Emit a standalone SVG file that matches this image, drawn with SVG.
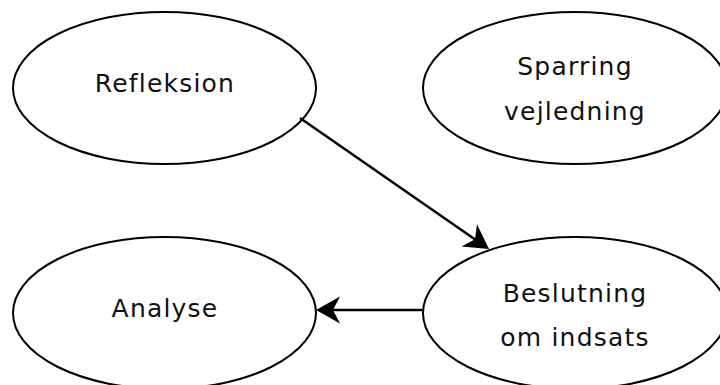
<svg xmlns="http://www.w3.org/2000/svg" width="720" height="385" viewBox="0 0 720 385">
  <defs>
    <style>
      .node ellipse { fill: #ffffff; stroke: #000000; stroke-width: 2; }
      .node text { font-family: "DejaVu Sans", "Noto Sans", sans-serif; font-size: 25px; letter-spacing: 1.2px; fill: #111111; text-anchor: middle; }
      .edge { stroke: #000000; stroke-width: 2.5; fill: none; }
    </style>
    <marker id="arrow" markerUnits="userSpaceOnUse" markerWidth="30" markerHeight="30" viewBox="-26 -15 28 30" refX="-5" refY="0" orient="auto">
      <path d="M0,0 L-24,-13.5 L-17,0 L-24,13.5 Z" fill="#000000"/>
    </marker>
  </defs>
  <rect width="720" height="385" fill="#ffffff"/>
  <g id="node-refleksion" class="node">
    <ellipse cx="164.5" cy="88" rx="151.5" ry="76"/>
    <text x="165" y="92">Refleksion</text>
  </g>
  <g id="node-sparring" class="node">
    <ellipse cx="575" cy="88" rx="152" ry="76"/>
    <text x="575" y="74.5">Sparring</text>
    <text x="575" y="120">vejledning</text>
  </g>
  <g id="node-analyse" class="node">
    <ellipse cx="164.5" cy="313" rx="151.5" ry="76"/>
    <text x="165" y="317">Analyse</text>
  </g>
  <g id="node-beslutning" class="node">
    <ellipse cx="575" cy="313" rx="152" ry="76"/>
    <text x="575" y="302">Beslutning</text>
    <text x="575" y="346">om indsats</text>
  </g>
  <g id="connectors">
    <line class="edge" x1="300" y1="118" x2="484.9" y2="246.2" marker-end="url(#arrow)"/>
    <line class="edge" x1="422" y1="310" x2="321" y2="310" marker-end="url(#arrow)"/>
  </g>
</svg>
